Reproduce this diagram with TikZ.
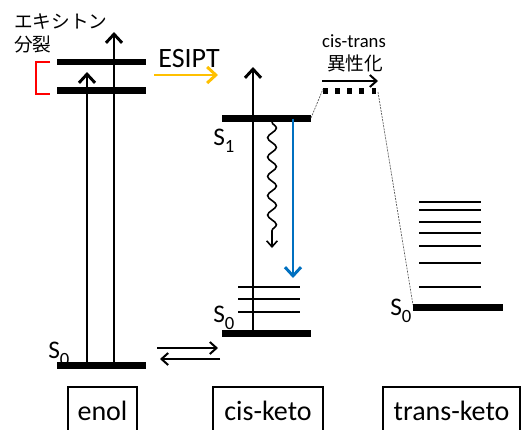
\documentclass[tikz,border=0pt]{standalone}
\usepackage{fontspec}
\setmainfont{Carlito}
\newfontfamily\jafont{Noto Sans CJK JP}
\usetikzlibrary{arrows.meta,decorations.pathmorphing}

\definecolor{esiptyellow}{HTML}{FFC000}
\definecolor{fluoblue}{HTML}{0070C0}

% state label such as S_0, S_1
\newcommand\statelbl[1]{S\raisebox{-0.3em}{\fontsize{14}{14}\selectfont #1}}

\tikzset{
  level/.style={line width=5pt},
  sublevel/.style={line width=1.5pt},
  bigarrow/.style={line width=2.2pt,-{Straight Barb[length=6.5pt,width=12pt]}},
  thinarrow/.style={line width=1.5pt,-{Straight Barb[length=5pt,width=9pt]}},
  guide/.style={line width=0.5pt,gray!70!black,dash pattern=on 1.5pt off 0.8pt},
  statetext/.style={anchor=base west,inner sep=0pt,font=\fontsize{19}{19}\selectfont},
  molbox/.style={draw,line width=1.1pt,anchor=base,inner xsep=0pt,inner ysep=0pt,
    text height=24.75pt,text depth=15pt,font=\fontsize{21}{21}\selectfont},
}

\begin{document}
\begin{tikzpicture}[x=0.75pt,y=-0.75pt]
\useasboundingbox (0,0) rectangle (521,429);
\clip (0,0) rectangle (521,429);

% ---------- enol ----------
\draw[level] (57,62) -- (146,62);
\draw[level] (57,90.5) -- (146,90.5);
\draw[level] (57,365.5) -- (146,365.5);
\coordinate (enolA0) at (87,365.5);
\coordinate (enolA1) at (87,72);
\coordinate (enolB0) at (114,365.5);
\coordinate (enolB1) at (114,32);
\draw[bigarrow] (enolA0) -- (enolA1);
\draw[bigarrow] (enolB0) -- (enolB1);
\node[statetext] (enolS0) at (48,358) {\statelbl{0}};

% exciton splitting bracket and label
\draw[red,line width=1.3pt] (50,62) -- (36,62) -- (36,94) -- (50,94);
\node[anchor=west,inner sep=0pt,font=\jafont\fontsize{14}{14}\selectfont] (exc1) at (14,22) {エキシトン};
\node[anchor=west,inner sep=0pt,font=\jafont\fontsize{14}{14}\selectfont] (exc2) at (14,44) {分裂};

% ESIPT
\node[inner sep=0pt,font=\fontsize{21}{21}\selectfont] (esipt) at (189,59) {ESIPT};
\coordinate (esiptA) at (154,75);
\coordinate (esiptB) at (218,75);
\draw[bigarrow,esiptyellow] (esiptA) -- (esiptB);

% ground-state equilibrium
\coordinate (eqA) at (157,348);
\coordinate (eqB) at (218,348);
\coordinate (eqC) at (220,359);
\coordinate (eqD) at (160,359);
\draw[thinarrow] (eqA) -- (eqB);
\draw[thinarrow] (eqC) -- (eqD);

% ---------- cis-keto ----------
\draw[level] (222,118.5) -- (311,118.5);
\draw[level] (222,333.5) -- (311,333.5);
\draw[sublevel] (238,287) -- (300,287);
\draw[sublevel] (238,299) -- (300,299);
\draw[sublevel] (238,312) -- (300,312);
\coordinate (cisA0) at (253,333.5);
\coordinate (cisA1) at (253,67);
\draw[bigarrow] (cisA0) -- (cisA1);
\node[statetext] (cisS1) at (213,145) {\statelbl{1}};
\node[statetext] (cisS0) at (213,322) {\statelbl{0}};

% radiationless decay
\coordinate (waveA) at (272,122);
\coordinate (waveB) at (272,248);
\draw[line width=1.2pt,-{Straight Barb[length=4.5pt,width=8pt]},
  decorate,decoration={snake,amplitude=3.3pt,segment length=14.5pt,post length=6pt}]
  (waveA) -- (waveB);

% fluorescence
\coordinate (fluoA) at (293,118.5);
\coordinate (fluoB) at (293,278);
\draw[bigarrow,fluoblue] (fluoA) -- (fluoB);

% ---------- cis-trans isomerisation ----------
\draw[line width=4pt,dash pattern=on 3.5pt off 5.6pt] (323,91) -- (378,91);
\coordinate (isoS1R) at (311,118);
\coordinate (isoTopL) at (323,89);
\coordinate (isoTopR) at (378,92);
\coordinate (transL) at (413,305);
\draw[guide] (isoS1R) -- (isoTopL);
\draw[guide] (isoTopR) -- (transL);
\coordinate (isoA) at (322,81);
\coordinate (isoB) at (378,81);
\draw[thinarrow] (isoA) -- (isoB);
\node[inner sep=0pt,font=\fontsize{14}{14}\selectfont] (cistrans) at (354,41) {cis-trans};
\node[inner sep=0pt,font=\jafont\fontsize{14}{14}\selectfont] (isom) at (355,63) {異性化};

% ---------- trans-keto ----------
\draw[level] (413,307.5) -- (503,307.5);
\foreach \yy in {202,210,222,233,246,263,287}
  \draw[sublevel] (419,\yy) -- (481,\yy);
\node[statetext] (transS0) at (390,315) {\statelbl{0}};

% ---------- species labels ----------
\node[molbox,minimum width=51.75pt] (enol) at (102.5,420) {enol};
\node[molbox,minimum width=82.5pt] (ciske) at (268,420) {cis-keto};
\node[molbox,minimum width=102.75pt] (transke) at (451.5,420) {trans-keto};
\end{tikzpicture}
\end{document}
